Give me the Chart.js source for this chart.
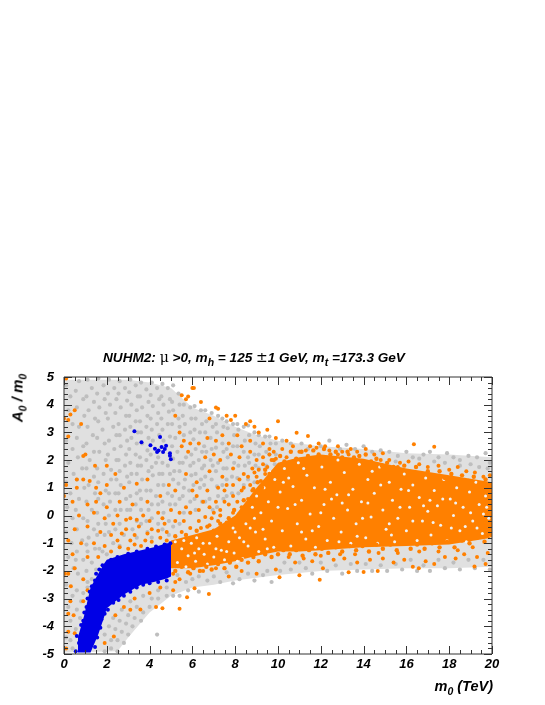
<!DOCTYPE html>
<html>
<head>
<meta charset="UTF-8">
<title>NUHM2 A0/m0 vs m0</title>
<script src="https://cdnjs.cloudflare.com/ajax/libs/Chart.js/4.4.1/chart.umd.min.js"></script>
<style>
    body { margin: 0; background: #fff; }
    #wrap { position: relative; width: 545px; height: 705px; font: italic bold 13.6px 'Liberation Sans', sans-serif; color: #000; }
    canvas { position: absolute; left: 0; top: 0; }
    .lbl { position: absolute; white-space: nowrap; }
    .lbl sub { font-size: 10.5px; line-height: 0; }
    .sym { font: normal 14px 'DejaVu Serif', serif; }
</style>
</head>
<body>
<div id="wrap">
    <canvas id="c" width="545" height="705"></canvas>
    <div class="lbl" style="left:103px;top:349px">NUHM2: <span class="sym">μ</span> &gt;0, m<sub>h</sub> = 125 <span class="sym">±</span>1 GeV, m<sub>t</sub> =173.3 GeV</div>
    <div class="lbl" style="left:17px;top:398px;font-size:15px;transform:translate(-50%,-50%) rotate(-90deg)">A<sub>0</sub> / m<sub>0</sub></div>
    <div class="lbl" style="right:52px;top:678px;font-size:14.5px">m<sub>0</sub> (TeV)</div>
</div>
<script>
const xTickValues = [0, 2, 4, 6, 8, 10, 12, 14, 16, 18, 20];
const yTickValues = [-5, -4, -3, -2, -1, 0, 1, 2, 3, 4, 5];

// the clouds are too dense to read point by point, so their solid parts are envelopes
const grayEdgeX = [0, 2.5, 3, 4, 5, 6, 7, 8, 9, 10, 12, 14, 16, 18, 20];
const grayUpper = [4.9, 4.9, 4.9, 4.8, 4.6, 3.9, 3.6, 3.2, 2.9, 2.7, 2.5, 2.4, 2.25, 2.2, 2.1];
const grayLower = [-4.95, -4.9, -4.4, -3.5, -2.9, -2.6, -2.5, -2.35, -2.25, -2.15, -2, -1.95, -1.9, -1.9, -1.85];
const orangeEdgeX = [5, 6, 7, 8, 9, 10, 11, 12, 14, 16, 18, 20];
const orangeUpper = [-0.9, -0.7, -0.5, 0, 1, 1.9, 2.1, 2.2, 2.05, 1.7, 1.45, 1.2];
const orangeLower = [-1.9, -1.9, -1.8, -1.65, -1.45, -1.3, -1.3, -1.25, -1.15, -1.1, -1.05, -0.8];
const blueEdgeX = [0.65, 0.93, 1.24, 1.6, 1.86, 2, 2.8, 3.6, 4.2, 4.8, 5];
const blueUpper = [-4.4, -3.65, -2.6, -2.1, -1.75, -1.6, -1.4, -1.25, -1.15, -1, -1];
const blueLower = [-4.95, -4.95, -4.95, -4.3, -3.7, -3.35, -2.85, -2.5, -2.4, -2.27, -2.2];

// flat x,y lists
const bluePairs = [3.29,3.04,3.62,2.64,4.04,2.54,4.25,2.41,4.35,2.29,4.42,2.35,4.49,2.83,4.56,2.47,4.63,2.29,4.71,2.4,4.77,2.52,4.95,2.25,4.95,2.16,4.99,2.03,
0.55,-4.9,0.7,-4.6,0.6,-4.35,0.85,-4.2,0.8,-3.95,0.9,-3.8,0.95,-3.5,1.05,-3.3,1.1,-3,1.2,-2.75,1.3,-2.55,1.45,-2.35,1.5,-2.1,1.65,-1.95,1.8,-1.8,2.2,-1.6,2.5,-1.5,3,-1.38,3.4,-1.3,3.9,-1.2,4.3,-1.12,4.7,-1.05,4.97,-1,1.45,-4.75,1.55,-4.4,1.7,-4.05,1.75,-3.75,1.9,-3.55,2.05,-3.4,2.3,-3.15,2.55,-3.05,2.8,-2.9,3.1,-2.75,3.4,-2.6,3.7,-2.5,4,-2.45,4.4,-2.4,4.8,-2.35,1.5,-3.9];

const orangeScatter = [0.1,4.95,0,3.5,0.2,3.45,0.3,3.65,0.5,3.8,0.8,3.3,0.2,2.85,0.9,2.15,1,2.2,2,1.8,1.45,1.8,2.4,1.5,0.6,1.3,0.9,1.3,1.2,1.25,0.1,1.1,0.6,1,1.5,1,2,1.1,1.7,0.8,2.8,1,3.4,1.15,3.9,1.3,0,0.7,0.4,0.5,1.1,0.4,1.5,0.5,2,0.3,2.6,0.5,3.2,0.4,3.9,0.5,4.5,0.7,4.9,1.1,5.2,0.9,0.7,0,1.4,0.1,1.9,-0.1,2.5,0,3.1,-0.1,3.7,0,4.4,0.1,5,0.2,5.4,0.1,0.5,-0.5,1.1,-0.4,1.7,-0.6,2.3,-0.3,2.9,-0.5,3.5,-0.4,4.1,-0.5,4.7,-0.3,5.2,-0.2,0.2,-0.9,0.8,-1,1.4,-1,1.9,-1.1,2.5,-0.9,3.1,-0.9,3.8,-0.9,4.5,-0.8,0.4,-1.4,1.1,-1.5,1.6,-1.5,2.2,-1.3,3,-1.2,3.6,-1.1,2.2,-0.7,2.7,-0.65,3.3,-0.7,3.9,-0.65,4.4,-0.55,4.8,-0.6,2.6,-1.15,3.3,-1.05,4.1,-0.95,4.8,-0.9,2.9,-0.15,3.4,-0.15,4,-0.2,4.6,-0.1,
0.04,-2.1,0.2,-2.1,0.5,-1.9,0.32,-2.55,0.9,-2.3,1.1,-2.7,0.2,-3.55,0.45,-3.6,0.2,-4.2,0.5,-4.25,0.3,-3.1,0.1,-4.8,0.9,-3.1,3.57,-3.39,3.1,-3.4,2.33,-4.37,4.6,-3.35,4.3,-3.3,5.4,-3.37,5.75,-2.95,5.1,-2.7,5.2,-2.4,6.77,-2.83,6.1,-2.63,5.1,-2.1,5.4,-2.3,5.9,-2.1,6.5,-2,7.1,-1.9,7.7,-2.2,8.3,-2,9,-2.1,2.4,-3.6,2.8,-3.3,3.3,-3,4,-2.8,4.5,-2.6,1.9,-4.6,
6,4.6,6.07,4.6,5.5,4.34,5.7,4.2,5.8,4.3,6.4,4.1,7.1,3.9,7.2,3.85,7.6,3.6,7.8,3.45,8,3.6,8.5,3.3,8.7,3.4,5.2,3.6,6.8,3.5,8.9,3.2,9.1,3,9.5,3.1,5.4,3,5.6,2.7,5.5,2.5,5.9,2.6,6.3,2.6,6.7,2.8,7.1,2.7,7.4,2.9,7.7,2.6,8.1,2.9,8.3,2.5,8.7,2.7,9.3,2.6,9.6,2.4,9.9,2.8,5.8,2.3,6.6,2.1,7,2.2,7.3,2,7.8,2.2,8.2,2.1,8.7,2.3,9,2,9.3,2.1,9.7,2,5.7,1.5,6.2,1.2,6.8,1.6,7.4,1.4,7.9,1.7,8.4,1.5,8.8,1.7,9,1.4,6.2,0.7,6.7,0.9,7.1,0.5,7.5,0.9,7.9,1.1,8.3,0.9,8.7,1.1,5.7,0.3,6.3,0.2,6.8,0.3,7.3,0.2,7.7,0.4,8.1,0.5,5.6,-0.2,6.3,-0.2,6.9,-0.1,7.3,0,
5.5,-0.6,5.9,-0.45,6.4,-0.45,6.8,-0.35,7.2,-0.2,7.6,-0.25,7.9,0.1,8.3,0.3,8.6,0.6,8.8,0.9,8.2,1.3,8.6,1.4,8.9,1.55,9.1,1.65,9.2,1.25,9.4,1.5,9.3,1.85,9.5,1.75,9.6,2.2,9.8,2.3,9.9,2.05,7.6,1.1,7.2,1,6.5,0.5,6,0.9,5.9,0.1,6.6,-0.05,7,0.1,7.5,0.5,7.9,0.7,8.4,1,
10,3.4,10.87,2.99,10.4,2.7,10.2,2.4,10.7,2.5,11,2.3,10.4,2.1,11.4,2.87,11.5,2.5,11.9,2.6,11.3,2.35,11.8,2.45,12.2,2.5,12.4,2.35,12.8,2.5,13,2.3,13.4,2.4,12.8,2.2,13.3,2.2,13.7,2.3,14.1,2.4,14.5,2.2,14.9,2.25,15.2,2,14.8,2,15.7,1.9,16.35,2.57,17.3,2.48,15.6,1.75,16.1,1.95,16.6,1.85,17,1.75,17.5,1.8,18,1.65,18.4,1.75,18.8,1.6,19.2,1.55,19.6,1.4,19.9,1.45,
11.95,-2.32,10.07,-2.23,11,-2.16,13.3,-2.05,14,-2.04,14.66,-2,16.58,-1.9,19.18,-1.84,9.9,-1.95,10.8,-1.7,11.6,-1.65,12.1,-1.9,12.6,-1.6,13.1,-1.55,13.7,-1.7,14.3,-1.6,14.9,-1.55,15.4,-1.7,15.9,-1.6,16.3,-1.85,16.9,-1.65,17.3,-1.75,17.8,-1.5,18.3,-1.55,18.7,-1.4,19.3,-1.5,19.8,-1.35,19.7,-1.75,10.5,-1.5,11.2,-1.55,12,-1.45,12.9,-1.4,13.6,-1.4,14.7,-1.35,15.6,-1.35,16.6,-1.3,17.5,-1.3,18.4,-1.25,19.1,-1.15];

// dots breaking up the rim of the solid orange part
const orangeRim = [5.2,-0.75,5.4,-0.95,5.7,-0.7,5.9,-0.85,6.2,-0.55,6.5,-0.7,6.7,-0.4,7,-0.55,7.3,-0.3,7.5,-0.45,7.7,-0.1,7.95,0.2,8.2,0.05,8.4,0.55,8.65,0.4,8.85,0.95,9.05,1.2,9.25,1,9.4,1.65,9.6,1.5,9.8,2,10.1,2.15,10.3,1.95,10.6,2.3,10.85,2.05,11.1,2.3,11.4,2.15,11.65,2.35,11.9,2.2,12.15,2.4,12.45,2.2,12.7,2.3,13,2.1,13.25,2.3,13.55,2.1,13.8,2.15,14.1,2.2,14.35,1.95,14.6,2.05,14.85,1.8,15.1,1.9,15.4,1.75,15.65,1.6,15.9,1.8,16.2,1.55,16.45,1.75,16.7,1.5,17,1.6,17.25,1.4,17.55,1.6,17.8,1.35,18.1,1.5,18.35,1.3,18.6,1.45,18.9,1.25,19.15,1.4,19.4,1.15,19.7,1.3,19.95,1.1,
5.2,-2,5.5,-1.85,5.8,-2.05,6.05,-1.9,6.35,-2,6.65,-1.85,6.9,-1.95,7.2,-1.75,7.5,-1.9,7.75,-1.7,8.05,-1.85,8.3,-1.6,8.6,-1.7,8.85,-1.5,9.1,-1.65,9.4,-1.4,9.7,-1.5,10,-1.4,10.25,-1.25,10.55,-1.4,10.85,-1.25,11.15,-1.45,11.45,-1.25,11.75,-1.4,12.05,-1.2,12.35,-1.35,12.7,-1.15,13,-1.3,13.35,-1.1,13.65,-1.25,13.95,-1.1,14.25,-1.3,14.6,-1.05,14.9,-1.2,15.25,-1.05,15.55,-1.25,15.85,-1,16.2,-1.2,16.5,-1.05,16.85,-1.2,17.2,-1,17.55,-1.15,17.9,-0.95,18.25,-1.15,18.6,-0.9,18.95,-1,19.3,-0.8,19.65,-0.95,19.95,-0.7];

// gaps and grey points showing through the solid orange part
const speckPairs = [5.3,-1.7,5.5,-1.2,5.2,-0.95,5.7,-1.85,5.8,-1.45,5.95,-1,6.15,-1.65,6.3,-1.2,6.2,-0.8,6.55,-1.4,6.7,-1.75,6.8,-1,7,-1.5,7.15,-0.75,7.35,-1.25,7.5,-1.6,7.7,-0.95,7.9,-0.45,7.95,-1.35,8.2,-0.8,8.35,-1.55,8.5,-0.3,8.6,-1.1,8.8,0.3,8.95,-0.6,9.1,-1.3,9.2,0.1,9.35,1,9.4,-0.85,9.55,0.5,9.7,-0.2,9.8,-1.15,9.85,1.3,10.1,0.85,10.2,-0.55,10.3,1.7,10.45,0.25,10.6,-1.1,10.7,1.05,10.9,-0.3,10.95,1.9,11.1,0.55,11.3,-0.85,11.35,1.45,11.5,0.05,11.7,1,11.75,-1.15,11.9,-0.4,12.05,1.75,12.15,0.4,12.3,-0.9,12.45,1.2,12.6,-0.1,12.75,0.75,12.8,2,12.95,-0.6,13.1,1.55,13.25,0.2,13.4,-1,13.5,0.95,13.65,-0.3,13.8,1.85,13.9,0.5,14.1,-0.8,14.2,1.3,14.35,-0.05,14.5,0.8,14.65,-1,14.75,1.75,14.9,0.2,15.05,-0.5,15.2,1.2,15.35,0.55,15.45,-0.95,15.6,-0.1,15.75,0.95,15.9,1.5,16,-0.55,16.15,0.3,16.3,1.1,16.5,-0.9,16.6,0.65,16.75,-0.2,16.9,1.35,17,0.15,17.15,-0.7,17.3,0.9,17.45,0.35,17.6,-0.35,17.75,1.3,17.9,-0.9,18.05,0.6,18.2,0,18.35,1,18.5,-0.55,18.65,0.3,18.8,-0.95,18.95,0.85,19.1,-0.2,19.25,1.2,19.4,0.4,19.55,-0.65,19.7,0.7,19.85,-0.1,19.95,-0.75,8.1,-1.65,8.7,-0.45,9,0.7,9.6,1.6,10.5,1.35,11.1,-0.6,12.2,0.95,13,0.45,13.7,-0.75,14.4,1.6,15.2,-0.3,16.1,0.9,17.1,0.55,18.1,-0.45,19,0.1,19.6,0.05,
5.6,-0.9,6.1,-1.35,6.5,-1,7.1,-1.2,7.6,-1.3,8,-0.6,8.4,-0.95,8.9,-0.1,9.3,-0.5,9.5,-1.2,10,0.3,10.25,1.2,10.8,0.4,11.2,1.7,11.6,-0.55,12,0.1,12.5,0.6,12.85,-0.95,13.3,0.75,13.95,-0.1,14.2,0.45,14.8,1.1,15.3,-0.7,15.7,0.3,16.3,-0.2,16.8,0.35,17.25,-0.25,17.7,0.6,18.3,0.45,18.75,-0.4,19.3,-0.45,19.75,0.3];

const grayPairs = [0.1,4.7,0.3,4.3,0.2,3.8,0.4,3.3,0.1,2.7,0.4,2.4,0.2,1.9,0.45,1.5,0.1,1.2,0.3,0.8,0.15,0.3,0.4,-0.1,0.1,-0.6,0.35,-1,0.2,-1.5,0.45,-1.9,0.1,-2.5,0.4,-2.9,0.2,-3.3,0.3,-3.8,0.1,-4.4,0.4,-4.8,
0.7,4.85,0.55,4.5,0.9,4.2,0.6,3.9,0.95,3.6,0.7,3.2,0.6,2.8,0.9,2.5,0.65,2.1,0.85,1.7,0.6,1.3,0.95,1,0.7,0.6,0.55,0.2,0.9,-0.1,0.6,-0.5,0.85,-0.9,0.6,-1.3,0.9,-1.6,0.65,-2.1,0.6,-2.7,0.8,-3.1,0.6,-3.4,0.75,-3.7,0.55,-4.1,0.7,-4.6,
1.1,4.9,1.3,4.6,1.05,4.3,1.4,4.1,1.15,3.8,1.45,3.5,1.1,3.2,1.35,2.9,1.05,2.6,1.4,2.3,1.2,2,1.05,1.7,1.4,1.4,1.15,1.1,1.45,0.8,1.05,0.5,1.3,0.2,1.1,-0.2,1.4,-0.5,1.15,-0.8,1.45,-1.2,1.1,-1.3,1.3,-1.7,1.05,-2,1.3,-2.3,1.1,-2.6,
1.6,4.95,1.85,4.7,1.55,4.4,1.9,4.2,1.65,3.9,1.95,3.7,1.6,3.4,1.8,3.1,1.55,2.8,1.9,2.6,1.65,2.3,1.95,2,1.55,1.7,1.85,1.5,1.6,1.2,1.95,0.9,1.6,0.6,1.85,0.4,1.55,0.1,1.95,-0.3,1.6,-0.3,1.9,-0.7,1.55,-0.7,1.8,-1.3,
2.1,4.9,2.35,4.6,2.05,4.4,2.45,4.2,2.15,4,2.4,3.7,2.05,3.5,2.3,3.2,2.45,2.9,2.1,2.7,2.35,2.4,2.05,2.2,2.45,2,2.2,1.65,2.45,1.3,2.2,1.3,2.1,0.8,2.4,0.8,2.15,0.5,2.4,0.2,2.1,0,2.4,-0.5,2.1,-0.6,2.3,-1,
2.6,4.85,2.85,4.6,2.55,4.4,2.95,4.15,2.65,3.9,2.9,3.6,2.55,3.3,2.85,3.1,2.6,2.9,2.95,2.7,2.65,2.5,2.9,2.2,2.55,2,2.85,1.8,2.6,1.6,2.95,1.4,2.65,1.1,2.55,0.8,2.9,0.6,2.65,0.2,2.95,0.2,2.6,-0.3,2.8,-0.7,2.6,-1.1,
3.1,4.9,3.35,4.7,3.05,4.45,3.45,4.3,3.15,4,3.4,3.8,3.05,3.6,3.35,3.4,3.1,3.2,3.45,3,3.15,2.8,3.4,2.6,3.05,2.4,3.35,2.2,3.1,1.9,3.45,1.8,3.15,1.5,3.4,1.5,3.05,1.2,3.4,0.8,3.1,0.7,3.35,0.4,3.1,0.2,3.4,-0.2,3.2,-0.5,3.4,-0.8,
3.6,4.8,3.85,4.55,3.55,4.3,3.95,4.1,3.65,3.9,3.9,3.6,3.55,3.4,3.85,3.2,3.6,3,3.95,2.8,3.65,2.6,3.9,2.35,3.55,2.1,3.85,2,3.6,1.8,3.95,1.6,3.65,1.3,3.55,0.9,3.85,0.9,3.6,0.6,3.95,0.2,3.6,0.2,3.85,-0.2,3.6,-0.3,3.9,-0.6,
4.1,4.8,4.35,4.6,4.05,4.35,4.45,4.2,4.15,3.95,4.4,3.7,4.05,3.5,4.35,3.3,4.1,3.1,4.45,2.9,4.15,2.7,4.4,2.1,4.05,2.2,4.3,1.9,4.1,1.75,4.45,1.5,4.15,1.45,4.4,1.1,4.05,0.9,4.3,0.7,4.1,0.4,4.4,0.4,4.1,-0.1,4.4,-0.3,4.1,-0.8,
4.6,4.75,4.85,4.6,4.55,4.3,4.95,4.2,4.65,4,4.9,3.75,4.55,3.5,4.85,3.3,4.6,3.1,4.95,2.85,4.65,2.7,4.6,1.9,4.85,1.8,4.6,1.5,4.95,1.5,4.65,1.1,4.85,0.8,4.6,0.5,4.95,0.4,4.65,0.1,4.9,-0.2,4.6,-0.5,4.9,-0.7,
5.1,4.7,5.35,4.4,5.05,4.1,5.4,4,5.1,3.8,5.35,3.5,5.05,3.3,5.4,3.2,5.2,2.8,5.05,2.5,5.3,2.3,5.1,2.05,5.4,1.9,5.15,1.6,5.4,1.6,5.1,1.3,5.35,1.15,5.05,0.7,5.4,0.6,5.2,0.4,5.4,-0.3,5.1,-0.4,
5.6,4,5.9,3.9,5.55,3.6,5.95,3.5,5.65,3.3,5.9,3,5.6,2.9,5.95,2.2,5.7,2.1,5.55,1.9,5.9,1.8,5.65,1.3,5.95,1.45,5.6,1,5.85,0.9,5.55,0.7,5.9,0.5,5.6,0.1,5.9,0.1,
6.1,3.95,6.4,3.8,6.15,3.5,6.45,3.3,6.1,3.1,6.35,3,6.05,2.75,6.45,2.3,6.15,2.4,6.3,2,6.05,1.9,6.45,1.7,6.15,1.5,6.4,1.3,6.05,1.1,6.35,1,6.1,0.6,6.45,0.5,6.15,0.2,
6.6,3.8,6.9,3.7,6.65,3.4,6.95,3.2,6.6,3,6.85,2.8,6.55,2.5,6.9,2.4,6.65,2.3,6.85,2,6.55,1.8,6.95,1.8,6.6,1.4,6.9,1.3,6.55,1.1,6.8,0.6,6.6,0.5,6.95,0.2,
7.2,3.6,7.4,3.5,7.1,3.3,7.45,3.2,7.15,3,7.4,2.6,7.1,2.45,7.45,2.3,7.2,1.9,7.45,1.7,7.1,1.6,7.4,1.1,7.15,1.05,7.45,0.6,7.2,0.7,7.15,0.3,
7.6,3.4,7.9,3.3,7.65,3.15,7.95,2.9,7.6,2.4,7.9,2.5,7.65,2.1,7.95,1.9,7.6,1.7,7.85,1.4,7.6,1.3,7.85,0.8,7.6,0.7,
8.1,3.3,8.4,3.2,8.15,3.1,8.45,2.7,8.1,2.5,8.4,2.3,8.15,1.8,8.45,1.8,8.1,1.35,8.4,1.1,8.15,0.8,
8.6,3.25,8.9,3,8.65,2.9,8.95,2.6,8.6,2.1,8.9,2.2,8.65,1.9,8.95,1.8,8.6,1.3,8.9,1.2,
9.1,2.9,9.4,2.85,9.15,2.5,9.45,2.3,9.1,2.2,9.45,1.8,9.1,1.7,
9.6,2.85,9.9,2.6,9.65,2.6,9.9,2.2,9.6,2.2,9.85,1.85,
10.2,2.7,10.6,2.6,11.1,2.6,11.4,2.4,12,2.5,12.4,2.7,12.9,2.4,13.2,2.55,13.6,2.4,14,2.5,14.4,2.3,14.8,2.35,15.2,2.3,15.6,2.15,16,2.3,16.3,2.1,16.8,2.2,17.1,2.3,17.5,2.1,17.9,2.25,18.2,2.1,18.5,2,18.9,2.15,19.3,2.1,19.7,2.25,19.9,1.9,15.5,1.95,16.6,2.05,17.3,1.95,17.8,1.9,18.5,1.8,19,1.85,19.4,1.75,19.8,1.7,
5.3,-2.15,5.7,-2.4,6,-2.3,6.3,-2.2,6.7,-2.35,7,-2.2,7.3,-2.4,7.6,-2.05,7.9,-2.45,8.2,-2.3,8.6,-2.1,8.9,-2.35,9.3,-2.15,9.7,-2.4,9.5,-2,10.1,-2,
10.3,-1.7,10.6,-1.95,11,-1.7,11.3,-1.9,11.6,-2.1,12,-1.7,12.3,-2,12.7,-1.8,13,-2.1,13.4,-1.75,13.7,-2,14.1,-1.75,14.4,-2,14.8,-1.8,15.1,-2,15.5,-1.75,15.8,-1.95,16.2,-1.6,16.5,-2,16.8,-1.8,17.1,-2,17.5,-1.6,17.8,-1.9,18.2,-1.7,18.5,-1.95,18.9,-1.6,19.2,-1.9,19.6,-1.6,19.9,-1.95,
1.9,-4.9,2.2,-4.8,2.5,-4.9,1.9,-4.3,2.2,-4.5,2.5,-4.5,2.8,-4.6,2.1,-4,2.4,-4.1,2.7,-4.2,3,-4.3,2.3,-3.7,2.6,-3.8,2.9,-3.9,3.2,-4,2.7,-3.4,3,-3.6,3.3,-3.7,3.6,-3.8,4.35,-4.3,3.1,-3.1,3.4,-3.3,3.7,-3.5,4,-3.3,3.7,-2.9,4.1,-3,4.4,-3,4.8,-2.9,4.4,-2.7,4.8,-2.6,5.1,-2.9,5.4,-2.9,5.8,-2.7,6.3,-2.75,
0.3,-4.5,0.9,-2.8,1.1,-2.4,1.5,-1.95,0.55,-1.6,1.05,-1.05,1.65,-1.2,2,-1.4];

const toPoints = (arr) => {
    const out = [];
    for (let i = 0; i < arr.length; i += 2) out.push({ x: arr[i], y: arr[i + 1] });
    return out;
};
const edge = (xs, ys) => xs.map((x, i) => ({ x: x, y: ys[i] }));
const dots = (arr, color, r) => ({ data: toPoints(arr), backgroundColor: color, pointRadius: r, borderWidth: 0 });
const band = (xs, upper, lower, color) => [
    { type: 'line', data: edge(xs, upper), borderWidth: 0, pointRadius: 0, tension: 0, fill: '+1', backgroundColor: color },
    { type: 'line', data: edge(xs, lower), borderWidth: 0, pointRadius: 0, tension: 0, fill: false }
];

const tickFont = { family: "'Liberation Sans', sans-serif", size: 13, weight: 'bold', style: 'italic' };

// ticks point inwards on all four sides, ROOT style
const frameTicks = {
    id: 'frameTicks',
    afterDraw(chart) {
        const { ctx, chartArea: a, scales: { x, y } } = chart;
        ctx.save();
        ctx.strokeStyle = '#333';
        ctx.lineWidth = 1;
        ctx.beginPath();
        for (let v = 0; v <= 20; v += 0.5) {
            const px = Math.round(x.getPixelForValue(v)) + 0.5;
            const len = v % 2 === 0 ? 8 : 4;
            ctx.moveTo(px, a.bottom); ctx.lineTo(px, a.bottom - len);
            ctx.moveTo(px, a.top); ctx.lineTo(px, a.top + len);
        }
        for (let i = 0; i <= 50; i++) {
            const py = Math.round(y.getPixelForValue(-5 + i * 0.2)) + 0.5;
            const len = i % 5 === 0 ? 8 : 4;
            ctx.moveTo(a.left, py); ctx.lineTo(a.left + len, py);
            ctx.moveTo(a.right, py); ctx.lineTo(a.right - len, py);
        }
        ctx.rect(a.left, a.top, a.right - a.left, a.bottom - a.top);
        ctx.stroke();
        ctx.restore();
    }
};

new Chart(document.getElementById('c'), {
    type: 'scatter',
    data: {
        datasets: [
            dots(bluePairs, '#0000e6', 2),
            ...band(blueEdgeX, blueUpper, blueLower, '#0000e6'),
            dots(orangeScatter, '#ff8000', 2),
            dots(orangeRim, '#ff8000', 2.2),
            dots(speckPairs, '#f2f2f2', 1.5),
            ...band(orangeEdgeX, orangeUpper, orangeLower, '#ff8000'),
            dots(grayPairs, '#bebebe', 2.1),
            ...band(grayEdgeX, grayUpper, grayLower, '#e0e0e0')
        ]
    },
    options: {
        responsive: false,
        animation: false,
        layout: { padding: { top: 377, right: 53, left: 0, bottom: 0 } },
        plugins: { legend: { display: false }, tooltip: { enabled: false } },
        scales: {
            x: {
                type: 'linear', min: 0, max: 20,
                grid: { display: false, drawTicks: false },
                border: { display: false },
                afterBuildTicks: (s) => { s.ticks = xTickValues.map((v) => ({ value: v })); },
                afterFit: (s) => { s.height = 51; },
                ticks: { color: '#000', font: tickFont, padding: 3, maxRotation: 0, autoSkip: false }
            },
            y: {
                type: 'linear', min: -5, max: 5,
                grid: { display: false, drawTicks: false },
                border: { display: false },
                afterBuildTicks: (s) => { s.ticks = yTickValues.map((v) => ({ value: v })); },
                afterFit: (s) => { s.width = 64; },
                ticks: { color: '#000', font: tickFont, padding: 10, autoSkip: false }
            }
        }
    },
    plugins: [frameTicks]
});
</script>
</body>
</html>
